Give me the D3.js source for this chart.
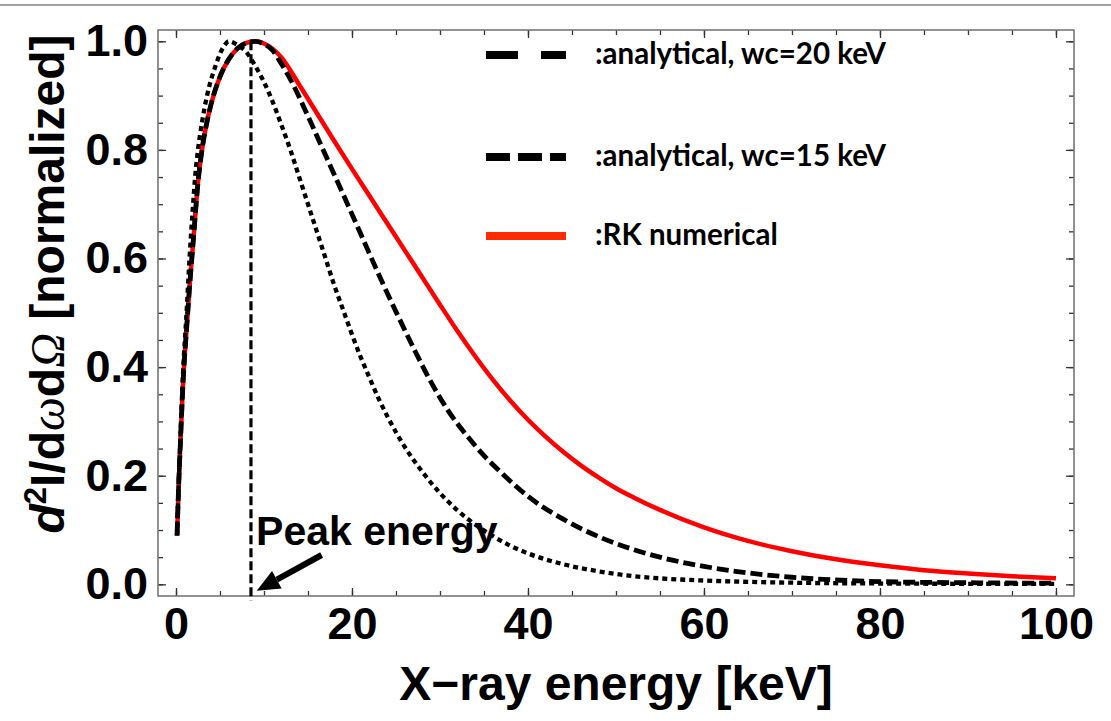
<!DOCTYPE html>
<html>
<head>
<meta charset="utf-8">
<script src="https://cdn.jsdelivr.net/npm/d3@7"></script>
<style>
  html, body { margin: 0; padding: 0; background: #fff; }
  svg { display: block; }
</style>
</head>
<body>
<svg id="chart" width="1111" height="721"></svg>
<script>
// ---------------- data ----------------
const xMajorTicks = [0, 20, 40, 60, 80, 100];
const yMajorTicks = [0.0, 0.2, 0.4, 0.6, 0.8, 1.0];

// RK numerical (red, solid)
const rkEnergy = [0.12,0.3,0.5,0.8,1.2,1.6,2,2.5,3,3.5,4,5,6,7,8,9,10,11,12,14,16,18,20,22,24,26,28,30,32,34,36,38,40,42,44,46,48,50,52,55,60,65,70,75,80,85,90,95,100];
const rkValue  = [0.09,0.18,0.26,0.37,0.47,0.56,0.64,0.74,0.805,0.85,0.885,0.935,0.967,0.987,0.997,1.0,0.996,0.986,0.97,0.92,0.868,0.816,0.765,0.715,0.665,0.615,0.565,0.515,0.466,0.42,0.377,0.338,0.303,0.272,0.244,0.219,0.197,0.177,0.16,0.137,0.105,0.08,0.061,0.046,0.035,0.026,0.02,0.015,0.011];

// analytical, dashed curve
const dashEnergy = [0.12,0.3,0.5,0.8,1.2,1.6,2,2.5,3,3.5,4,5,6,7,8,9,10,11,12,13,15,17,19,21,23,25,27,29,31,33,35,37,40,44,48,52,56,60,65,70,75,80,90,100];
const dashValue  = [0.09,0.18,0.26,0.37,0.47,0.56,0.64,0.74,0.805,0.85,0.885,0.935,0.967,0.987,0.997,1.0,0.995,0.983,0.958,0.93,0.862,0.79,0.718,0.645,0.572,0.502,0.435,0.372,0.318,0.275,0.237,0.205,0.162,0.12,0.088,0.064,0.046,0.033,0.021,0.013,0.008,0.005,0.003,0.002];

// analytical, dotted curve
const dotEnergy = [0.12,0.3,0.5,0.8,1.2,1.5,1.9,2.2,2.5,3,3.5,4,4.5,5,5.5,6,7,8,9,10,11,12,13,14,15,16,17,18,19,20,21,22,23,24,25,26,28,30,32,34,36,38,40,44,48,52,56,60,70,80,90,100];
const dotValue  = [0.09,0.18,0.27,0.39,0.50,0.59,0.69,0.755,0.80,0.855,0.898,0.93,0.955,0.977,0.992,1.0,0.993,0.98,0.955,0.925,0.888,0.845,0.80,0.75,0.70,0.65,0.60,0.55,0.505,0.46,0.418,0.38,0.343,0.31,0.28,0.253,0.207,0.168,0.136,0.11,0.089,0.071,0.057,0.037,0.024,0.015,0.01,0.007,0.003,0.0015,0.001,0.001];

const peakEnergy = 8.52;
const legendLabels = [":analytical, wc=20 keV", ":analytical, wc=15 keV", ":RK numerical"];
const xTitle = "X\u2212ray energy [keV]";
const annotation = "Peak energy";

// ---------------- chart ----------------
const svg = d3.select("#chart");
const FONT = "'Liberation Sans', Arial, Helvetica, sans-serif";

// thin separator at the very top
svg.append("line").attr("x1", 0).attr("x2", 1111).attr("y1", 5).attr("y2", 5)
   .attr("stroke", "#a0a0a0").attr("stroke-width", 2);

const x = d3.scaleLinear().domain([-2.045, 102.05]).range([158, 1074]);
const y = d3.scaleLinear().domain([-0.0215, 1.0208]).range([596, 30]);

const minorX = d3.range(0, 101, 5);
const minorY = d3.range(0, 21).map(i => i * 0.05);

function styleAxis(g) {
  g.select(".domain").remove();
  g.selectAll(".tick line").attr("stroke", "#333").attr("stroke-width", 1.3);
}

// minor ticks (all four sides)
svg.append("g").attr("transform", "translate(0,596)")
   .call(d3.axisBottom(x).tickValues(minorX).tickSize(-5).tickFormat(""))
   .call(styleAxis);
svg.append("g").attr("transform", "translate(0,30)")
   .call(d3.axisTop(x).tickValues(minorX).tickSize(-5).tickFormat(""))
   .call(styleAxis);
svg.append("g").attr("transform", "translate(158,0)")
   .call(d3.axisLeft(y).tickValues(minorY).tickSize(-5).tickFormat(""))
   .call(styleAxis);
svg.append("g").attr("transform", "translate(1074,0)")
   .call(d3.axisRight(y).tickValues(minorY).tickSize(-5).tickFormat(""))
   .call(styleAxis);

// major ticks with labels
const gxb = svg.append("g").attr("transform", "translate(0,596)")
   .call(d3.axisBottom(x).tickValues(xMajorTicks).tickSize(-8).tickPadding(11).tickFormat(d3.format("d")))
   .call(styleAxis);
gxb.selectAll("text").attr("font-family", FONT).attr("font-weight", "bold")
   .attr("font-size", 45).attr("fill", "#000");
svg.append("g").attr("transform", "translate(0,30)")
   .call(d3.axisTop(x).tickValues(xMajorTicks).tickSize(-8).tickFormat(""))
   .call(styleAxis);
const gyl = svg.append("g").attr("transform", "translate(158,0)")
   .call(d3.axisLeft(y).tickValues(yMajorTicks).tickSize(-8).tickPadding(10).tickFormat(d3.format(".1f")))
   .call(styleAxis);
gyl.selectAll("text").attr("font-family", FONT).attr("font-weight", "bold")
   .attr("font-size", 45).attr("fill", "#000");
svg.append("g").attr("transform", "translate(1074,0)")
   .call(d3.axisRight(y).tickValues(yMajorTicks).tickSize(-8).tickFormat(""))
   .call(styleAxis);

// frame
svg.append("rect").attr("x", 158).attr("y", 30).attr("width", 1074 - 158).attr("height", 596 - 30)
   .attr("fill", "none").attr("stroke", "#777").attr("stroke-width", 1.6);

// curves
const line = d3.line().x(d => x(d[0])).y(d => y(d[1])).curve(d3.curveMonotoneX);
const zip = (a, b) => a.map((v, i) => [v, b[i]]);

svg.append("path").datum(zip(rkEnergy, rkValue)).attr("d", line)
   .attr("fill", "none").attr("stroke", "#ff0000").attr("stroke-width", 4.5);
svg.append("path").datum(zip(dashEnergy, dashValue)).attr("d", line)
   .attr("fill", "none").attr("stroke", "#000").attr("stroke-width", 4.8)
   .attr("stroke-dasharray", "12,5");
svg.append("path").datum(zip(dotEnergy, dotValue)).attr("d", line)
   .attr("fill", "none").attr("stroke", "#000").attr("stroke-width", 4.3)
   .attr("stroke-dasharray", "5,4");

// peak energy vertical marker
svg.append("line").attr("x1", x(peakEnergy)).attr("x2", x(peakEnergy))
   .attr("y1", y(1.0)).attr("y2", y(-0.03))
   .attr("stroke", "#000").attr("stroke-width", 3.2).attr("stroke-dasharray", "9,4");

// annotation arrow
const tail = [x(16.55), y(0.054)], tip = [x(9.17), y(-0.0118)];
const dx = tip[0] - tail[0], dy = tip[1] - tail[1], L = Math.hypot(dx, dy);
const ux = dx / L, uy = dy / L, px = -uy, py = ux;
const headLen = 23, headHalf = 10;
const base = [tip[0] - ux * headLen, tip[1] - uy * headLen];
svg.append("line").attr("x1", tail[0]).attr("y1", tail[1]).attr("x2", base[0]).attr("y2", base[1])
   .attr("stroke", "#000").attr("stroke-width", 6);
svg.append("path")
   .attr("d", `M${tip[0]},${tip[1]}L${base[0] + px * headHalf},${base[1] + py * headHalf}L${base[0] - px * headHalf},${base[1] - py * headHalf}Z`)
   .attr("fill", "#000");

svg.append("text").attr("x", x(9.1)).attr("y", y(0.072))
   .attr("font-family", FONT).attr("font-weight", "bold").attr("font-size", 41)
   .attr("fill", "#000").text(annotation);

// legend
const legendRows = [
  {y: 55,  stroke: "#000",    dash: "32,23", label: legendLabels[0]},
  {y: 157, stroke: "#000",    dash: "24,8",  label: legendLabels[1]},
  {y: 236, stroke: "#ff2a00", dash: null,    label: legendLabels[2]}
];
const lg = svg.append("g");
legendRows.forEach(r => {
  const l = lg.append("line").attr("x1", 486).attr("x2", 566).attr("y1", r.y).attr("y2", r.y)
     .attr("stroke", r.stroke).attr("stroke-width", 8);
  if (r.dash) l.attr("stroke-dasharray", r.dash);
  lg.append("text").attr("x", 595).attr("y", r.y).attr("dy", "0.32em")
     .attr("font-family", "Lato, 'Open Sans', sans-serif").attr("font-weight", "bold")
     .attr("font-size", 29.5).attr("fill", "#000").text(r.label);
});

// axis titles
svg.append("text").attr("x", (158 + 1074) / 2).attr("y", 700).attr("text-anchor", "middle")
   .attr("font-family", FONT).attr("font-weight", "bold").attr("font-size", 48)
   .attr("fill", "#000").text(xTitle);

const yt = svg.append("text").attr("transform", "translate(64,284) rotate(-90)")
   .attr("text-anchor", "middle").attr("font-family", FONT).attr("font-weight", "bold")
   .attr("font-size", 48).attr("fill", "#000");
yt.append("tspan").attr("font-style", "italic").text("d");
yt.append("tspan").attr("font-size", 31).attr("dy", -18).text("2");
yt.append("tspan").attr("dy", 18).text("I/d");
yt.append("tspan").attr("font-family", "'Liberation Serif', 'DejaVu Serif', serif").attr("font-style", "italic").attr("font-weight", "normal").text("\u03C9");
yt.append("tspan").text("d");
yt.append("tspan").attr("font-family", "'Liberation Serif', 'DejaVu Serif', serif").attr("font-style", "italic").attr("font-weight", "normal").text("\u03A9");
yt.append("tspan").text(" [normalized]");
</script>
</body>
</html>
